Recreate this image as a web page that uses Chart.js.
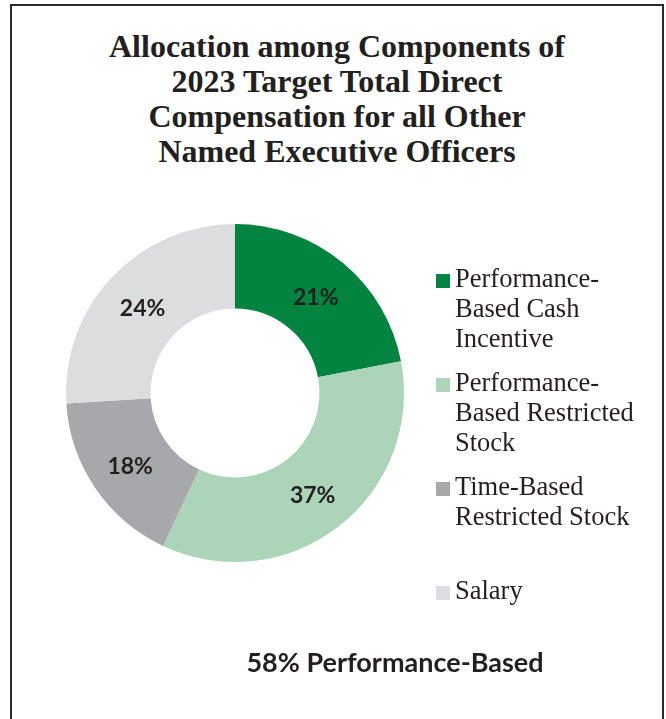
<!DOCTYPE html>
<html>
<head>
	<meta charset="UTF-8">
	<title>Allocation among Components of 2023 Target Total Direct Compensation</title>
	<script src="https://cdn.jsdelivr.net/npm/chart.js"></script>
	<style>
		body { margin: 0; width: 666px; height: 719px; overflow: hidden; background: #fff; position: relative; }
		.frame { position: absolute; left: 10px; top: 4px; width: 654px; height: 800px; box-sizing: border-box; border: 2px solid #2b2b2b; }
		.title { position: absolute; left: 10px; width: 654px; top: 29px; text-align: center;
			font: bold 32px "Liberation Serif", serif; line-height: 35px; color: #231f20; }
		.legend-item { position: absolute; left: 436px; width: 225px; }
		.legend-item .box { position: absolute; left: 0; top: 11px; width: 14px; height: 14px; }
		.legend-item .txt { position: absolute; left: 19px; top: 0; white-space: nowrap;
			font: 26.5px "Liberation Serif", serif; line-height: 30px; color: #231f20; }
		.footer { position: absolute; left: 195px; width: 400px; top: 647px; text-align: center;
			font: bold 27px Lato, sans-serif; line-height: 30px; color: #231f20; }
		#pie { position: absolute; left: 0; top: 0; }
	</style>
</head>
<body>
	<div class="frame"></div>
	<div class="title">Allocation among Components of<br>2023 Target Total Direct<br>Compensation for all Other<br>Named Executive Officers</div>
	<canvas id="pie" width="666" height="719"></canvas>
	<div id="legend"></div>
	<div class="footer">58% Performance-Based</div>

	<script>
		// slice sizes as drawn, labels as printed on the chart
		const components = ['Performance-Based Cash Incentive', 'Performance-Based Restricted Stock', 'Time-Based Restricted Stock', 'Salary'];
		const legendLines = [
			['Performance-', 'Based Cash', 'Incentive'],
			['Performance-', 'Based Restricted', 'Stock'],
			['Time-Based', 'Restricted Stock'],
			['Salary']
		];
		const shares = [22, 35, 17, 26];
		const shareLabels = ['21%', '37%', '18%', '24%'];
		const colors = ['#00843f', '#acd4b8', '#a7a8ac', '#dcdddf'];

		// html legend, one row every 104px
		const legend = document.getElementById('legend');
		legendLines.forEach((lines, i) => {
			const item = document.createElement('div');
			item.className = 'legend-item';
			item.style.top = (263 + i * 104) + 'px';
			item.innerHTML = '<div class="box" style="background:' + colors[i] + '"></div>' +
				'<div class="txt">' + lines.join('<br>') + '</div>';
			legend.appendChild(item);
		});

		// percent labels in the middle of each ring segment
		const sliceLabels = {
			id: 'sliceLabels',
			afterDatasetsDraw(chart) {
				const ctx = chart.ctx;
				const arcs = chart.getDatasetMeta(0).data;
				ctx.save();
				ctx.font = 'bold 23px Lato, sans-serif';
				ctx.fillStyle = '#231f20';
				ctx.textAlign = 'center';
				ctx.textBaseline = 'middle';
				arcs.forEach((arc, i) => {
					const p = arc.tooltipPosition();
					ctx.fillText(shareLabels[i], p.x, p.y + 2);
				});
				ctx.restore();
			}
		};

		new Chart(document.getElementById('pie').getContext('2d'), {
			type: 'doughnut',
			data: {
				labels: components,
				datasets: [{
					data: shares,
					backgroundColor: colors,
					borderWidth: 0
				}]
			},
			options: {
				responsive: false,
				animation: false,
				cutout: '50%',
				layout: { padding: { left: 66, right: 262, top: 224, bottom: 157 } },
				plugins: {
					legend: { display: false },
					tooltip: { enabled: false }
				}
			},
			plugins: [sliceLabels]
		});
	</script>
</body>
</html>
